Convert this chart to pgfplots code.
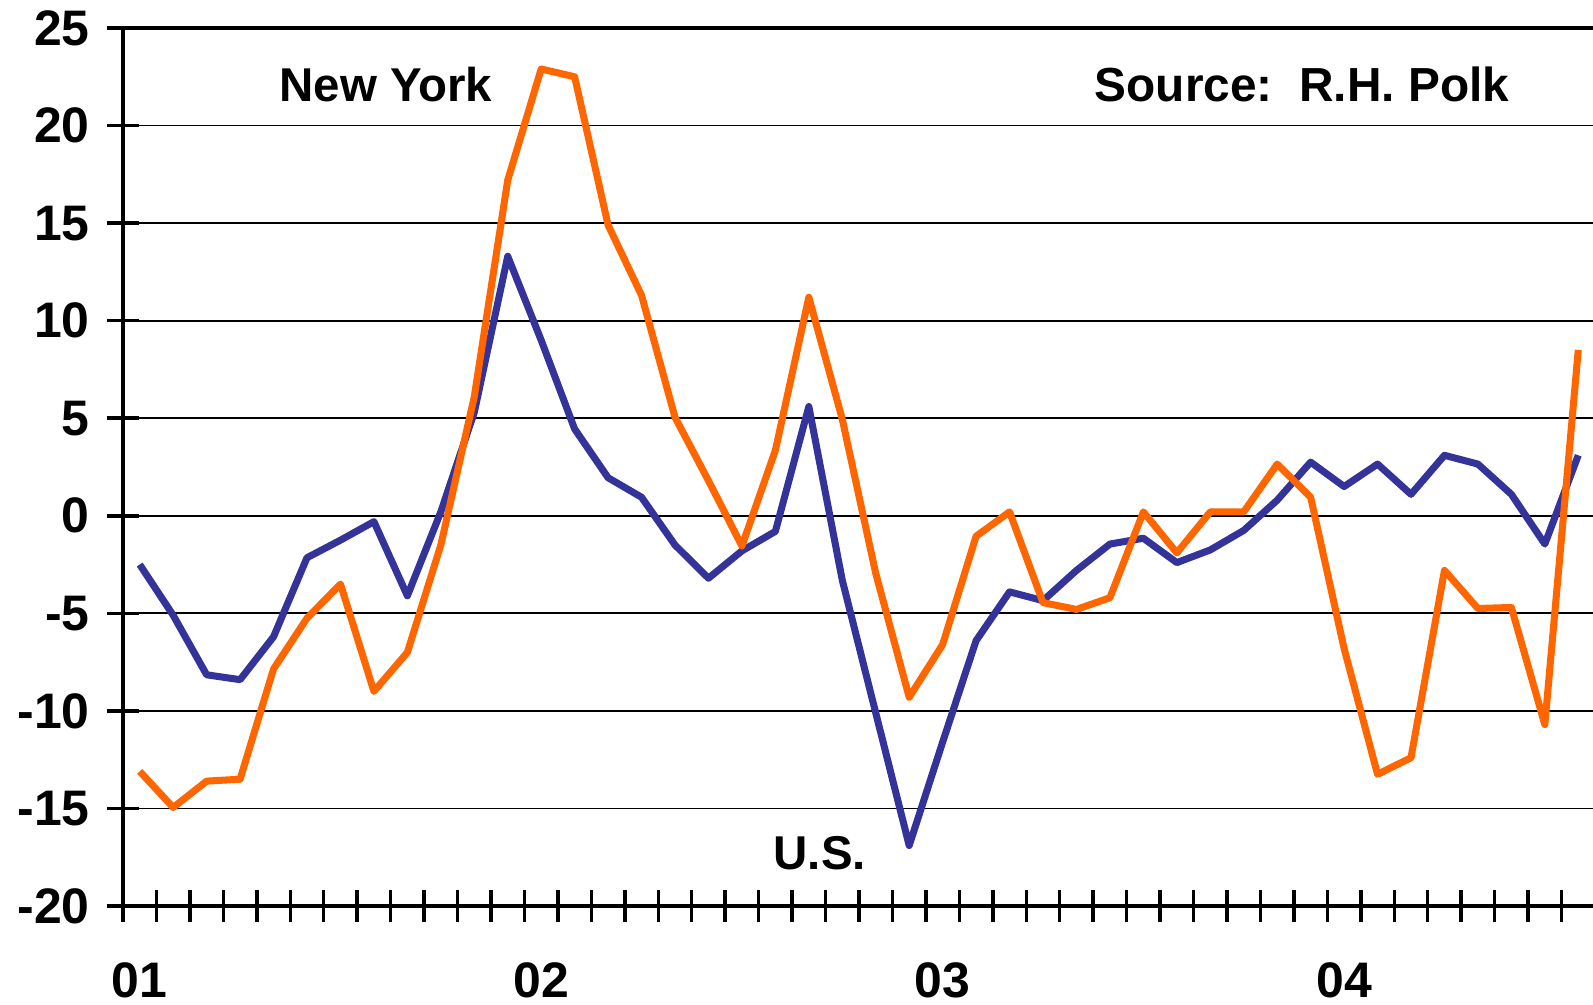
\documentclass[border=0pt]{standalone}
\usepackage{fontspec}
\setmainfont{Liberation Sans}
\usepackage{pgfplots}
\usepackage{pgfplotstable}
\pgfplotsset{compat=1.18}
\definecolor{usblue}{HTML}{333399}
\definecolor{nyorange}{HTML}{FF6600}

\pgfplotstableread{
x us ny
0 -2.5 -13.1
1 -5.1 -14.95
2 -8.15 -13.6
3 -8.4 -13.5
4 -6.2 -7.85
5 -2.15 -5.25
6 -1.25 -3.5
7 -0.3 -9.0
8 -4.1 -7.0
9 0.2 -1.5
10 5.3 6.1
11 13.3 17.2
12 9.0 22.9
13 4.45 22.5
14 1.95 14.9
15 0.95 11.3
16 -1.5 5.05
17 -3.2 1.8
18 -1.8 -1.55
19 -0.8 3.35
20 5.6 11.2
21 -3.3 4.95
22 -10.1 -2.95
23 -16.9 -9.3
24 -11.6 -6.6
25 -6.4 -1.05
26 -3.9 0.2
27 -4.35 -4.45
28 -2.8 -4.8
29 -1.45 -4.2
30 -1.15 0.2
31 -2.4 -1.9
32 -1.75 0.2
33 -0.75 0.2
34 0.8 2.65
35 2.75 0.95
36 1.5 -6.8
37 2.65 -13.25
38 1.1 -12.4
39 3.1 -2.8
40 2.65 -4.75
41 1.1 -4.7
42 -1.45 -10.7
43 3.1 8.5
}\datatable

\begin{document}
\begin{tikzpicture}
\begin{axis}[
  at={(0,0)}, anchor=south west,
  scale only axis,
  width=14.72cm, height=8.78cm,
  xmin=-0.5, xmax=43.5, ymin=-20, ymax=25,
  axis y line*=left,
  axis line style={line width=1.1pt, black},
  xtick pos=bottom, ytick pos=left,
  ytick={-20,-15,-10,-5,0,5,10,15,20,25},
  yticklabels={-20,-15,-10,-5,0,5,10,15,20,25},
  ymajorgrids,
  grid style={black, line width=0.5pt},
  xtick={-0.5,0.5,...,43.5},
  xticklabels={},
  extra x ticks={0,12,24,36},
  extra x tick labels={01,02,03,04},
  extra x tick style={major tick length=0pt, grid=none,
     xticklabel style={yshift=-0.44cm}},
  tick align=center,
  major tick length=0.32cm,
  tick style={black, line width=1pt},
  ticklabel style={font=\fontsize{14.2pt}{14.2pt}\selectfont\bfseries},
  yticklabel style={xshift=-0.05cm},
  clip=false,
]
\addplot[usblue, line width=2pt, line join=round, no markers] table[x=x, y=us] {\datatable};
\addplot[nyorange, line width=2pt, line join=round, no markers] table[x=x, y=ny] {\datatable};
\node[font=\fontsize{13.5pt}{13.5pt}\selectfont\bfseries] at (axis cs:7.36,22.09) {New York};
\node[font=\fontsize{13.6pt}{13.6pt}\selectfont\bfseries] at (axis cs:34.74,22.09) {Source:\ \ R.H. Polk};
\node[font=\fontsize{13.5pt}{13.5pt}\selectfont\bfseries] at (axis cs:20.33,-17.28) {U.S.};
\end{axis}
\pgfresetboundingbox
\useasboundingbox (-1.23cm,-0.98cm) rectangle (14.70cm,9.06cm);
\end{tikzpicture}
\end{document}
